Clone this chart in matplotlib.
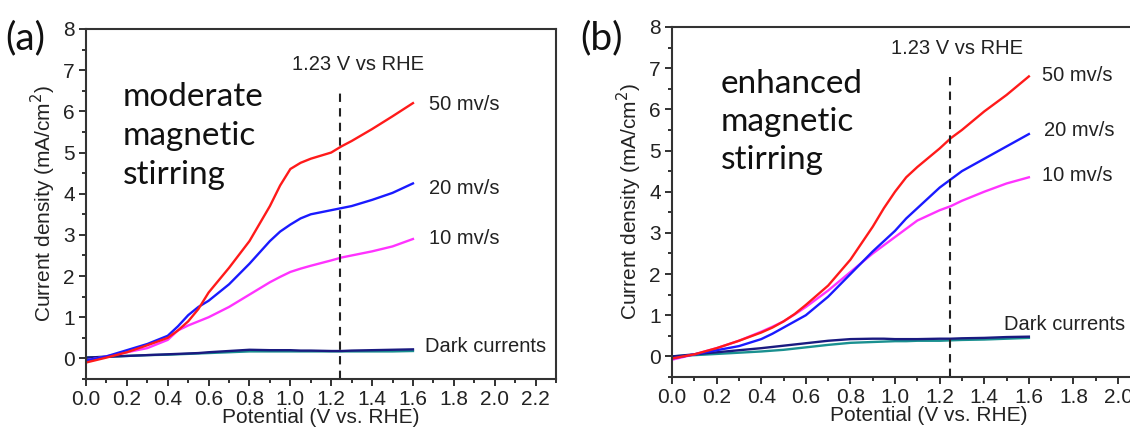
import matplotlib
matplotlib.use("Agg")
import matplotlib.pyplot as plt
from matplotlib.ticker import MultipleLocator

plt.rcParams['font.family'] = ['Liberation Sans', 'DejaVu Sans']

# ---------------- data ----------------
pot = [0.0, 0.1, 0.2, 0.3, 0.4, 0.45, 0.5, 0.55, 0.6, 0.7, 0.8, 0.9, 0.95, 1.0,
       1.05, 1.1, 1.2, 1.25, 1.3, 1.4, 1.5, 1.6]

# panel (a): moderate magnetic stirring
a_50 = [-0.1, 0.02, 0.15, 0.32, 0.5, 0.68, 0.9, 1.2, 1.6, 2.2, 2.85, 3.7, 4.2, 4.6,
        4.75, 4.85, 5.0, 5.15, 5.28, 5.57, 5.88, 6.2]
a_20 = [-0.05, 0.05, 0.2, 0.35, 0.55, 0.78, 1.05, 1.25, 1.4, 1.8, 2.3, 2.85, 3.08, 3.25,
        3.4, 3.5, 3.6, 3.65, 3.7, 3.85, 4.02, 4.25]
a_10 = [-0.05, 0.05, 0.15, 0.25, 0.45, 0.68, 0.8, 0.9, 1.0, 1.25, 1.55, 1.85, 1.98, 2.1,
        2.18, 2.25, 2.38, 2.45, 2.5, 2.6, 2.72, 2.9]
a_dark1 = [0.02, 0.04, 0.06, 0.08, 0.1, 0.11, 0.12, 0.13, 0.15, 0.18, 0.21, 0.2, 0.2, 0.2,
           0.19, 0.19, 0.18, 0.18, 0.19, 0.2, 0.21, 0.22]
a_dark2 = [0.02, 0.04, 0.06, 0.08, 0.09, 0.1, 0.11, 0.12, 0.13, 0.15, 0.17, 0.17, 0.17, 0.17,
           0.17, 0.17, 0.17, 0.17, 0.17, 0.17, 0.17, 0.18]

# panel (b): enhanced magnetic stirring
b_50 = [-0.05, 0.05, 0.2, 0.38, 0.58, 0.7, 0.85, 1.03, 1.25, 1.72, 2.35, 3.15, 3.6, 4.0,
        4.35, 4.6, 5.05, 5.3, 5.5, 5.95, 6.35, 6.8]
b_20 = [-0.05, 0.05, 0.15, 0.25, 0.42, 0.55, 0.7, 0.85, 1.0, 1.45, 2.0, 2.55, 2.8, 3.05,
        3.35, 3.6, 4.1, 4.3, 4.5, 4.8, 5.1, 5.4]
b_10 = [-0.08, 0.05, 0.2, 0.38, 0.6, 0.72, 0.85, 1.02, 1.2, 1.6, 2.05, 2.5, 2.7, 2.9,
        3.1, 3.3, 3.55, 3.65, 3.78, 4.0, 4.2, 4.35]
b_dark1 = [0.0, 0.05, 0.1, 0.15, 0.2, 0.23, 0.26, 0.29, 0.32, 0.38, 0.42, 0.43, 0.43, 0.42,
           0.42, 0.42, 0.43, 0.43, 0.44, 0.45, 0.47, 0.48]
b_dark2 = [0.0, 0.03, 0.06, 0.09, 0.12, 0.14, 0.16, 0.19, 0.22, 0.28, 0.33, 0.35, 0.36, 0.37,
           0.37, 0.38, 0.38, 0.39, 0.4, 0.41, 0.43, 0.45]

rate_labels = ["50 mv/s", "20 mv/s", "10 mv/s"]
dark_label = "Dark currents"
ref_label = "1.23 V vs RHE"
ref_pot = 1.245
panel_labels = ["(a)", "(b)"]
condition_labels = ["moderate\nmagnetic\nstirring", "enhanced\nmagnetic\nstirring"]
x_ticks = [0.0, 0.2, 0.4, 0.6, 0.8, 1.0, 1.2, 1.4, 1.6, 1.8, 2.0, 2.2]
y_ticks = [0, 1, 2, 3, 4, 5, 6, 7, 8]

# ---------------- figure ----------------
fig = plt.figure(figsize=(11.3, 4.3), dpi=100)
axA = fig.add_axes([86/1130, 51/430, 470/1130, 350/430])
axB = fig.add_axes([672/1130, 53/430, 513/1130, 350/430])

col_50 = '#ff1a1a'
col_20 = '#1a1aff'
col_10 = '#ff33ff'
col_d1 = '#1a1a80'
col_d2 = '#1a9090'
txt = '#222222'

def style(ax):
    ax.set_xlim(0, 2.3)
    ax.set_ylim(-0.5, 8)
    ax.set_xticks(x_ticks)
    ax.set_xticklabels([f"{t:.1f}" for t in x_ticks])
    ax.set_yticks(y_ticks)
    ax.xaxis.set_minor_locator(MultipleLocator(0.1))
    ax.yaxis.set_minor_locator(MultipleLocator(0.5))
    ax.tick_params(which='both', direction='out', top=False, right=False,
                   labelsize=15, colors=txt, width=1.3)
    ax.tick_params(which='major', length=5, pad=3)
    ax.tick_params(which='minor', length=3)
    for s in ax.spines.values():
        s.set_linewidth(1.5)
        s.set_color('#333333')
    ax.set_xlabel("Potential (V vs. RHE)", fontsize=15, color=txt, labelpad=-1)
    ax.set_ylabel("Current density (mA/cm$^2$)", fontsize=15, color=txt, labelpad=4)

for ax, d in [(axA, (a_50, a_20, a_10, a_dark1, a_dark2)),
              (axB, (b_50, b_20, b_10, b_dark1, b_dark2))]:
    style(ax)
    ax.plot(pot, d[4], color=col_d2, lw=1.7)
    ax.plot(pot, d[3], color=col_d1, lw=1.7)
    ax.plot(pot, d[2], color=col_10, lw=1.7)
    ax.plot(pot, d[1], color=col_20, lw=1.7)
    ax.plot(pot, d[0], color=col_50, lw=1.7)

# panel (a) annotations
axA.plot([ref_pot, ref_pot], [-0.5, 6.5], ls=(0, (4, 3)), color=txt, lw=1.5)
axA.text(1.33, 7.15, ref_label, fontsize=14.5, ha='center', va='center', color=txt)
axA.text(1.68, 6.17, rate_labels[0], fontsize=14.5, va='center', color=txt)
axA.text(1.68, 4.13, rate_labels[1], fontsize=14.5, va='center', color=txt)
axA.text(1.68, 2.9, rate_labels[2], fontsize=14.5, va='center', color=txt)
axA.text(1.66, 0.3, dark_label, fontsize=14.5, va='center', color=txt)
axA.text(0.18, 6.72, condition_labels[0], fontsize=24, va='top', ha='left',
         family=['Lato', 'DejaVu Sans'], linespacing=1.38, color='#111111')

# panel (b) annotations
axB.plot([ref_pot, ref_pot], [-0.5, 6.8], ls=(0, (4, 3)), color=txt, lw=1.5)
axB.text(1.28, 7.48, ref_label, fontsize=14.5, ha='center', va='center', color=txt)
axB.text(1.66, 6.82, rate_labels[0], fontsize=14.5, va='center', color=txt)
axB.text(1.67, 5.49, rate_labels[1], fontsize=14.5, va='center', color=txt)
axB.text(1.66, 4.39, rate_labels[2], fontsize=14.5, va='center', color=txt)
axB.text(1.49, 0.78, dark_label, fontsize=14.5, va='center', color=txt)
axB.text(0.22, 6.97, condition_labels[1], fontsize=24, va='top', ha='left',
         family=['Lato', 'DejaVu Sans'], linespacing=1.33, color='#111111')

fig.text(5/1130, 1 - 38/430, panel_labels[0], fontsize=28, va='center', ha='left',
         family=['Lato', 'DejaVu Sans'], color='#111111')
fig.text(580/1130, 1 - 38/430, panel_labels[1], fontsize=28, va='center', ha='left',
         family=['Lato', 'DejaVu Sans'], color='#111111')

fig.savefig("out.png", dpi=100)
